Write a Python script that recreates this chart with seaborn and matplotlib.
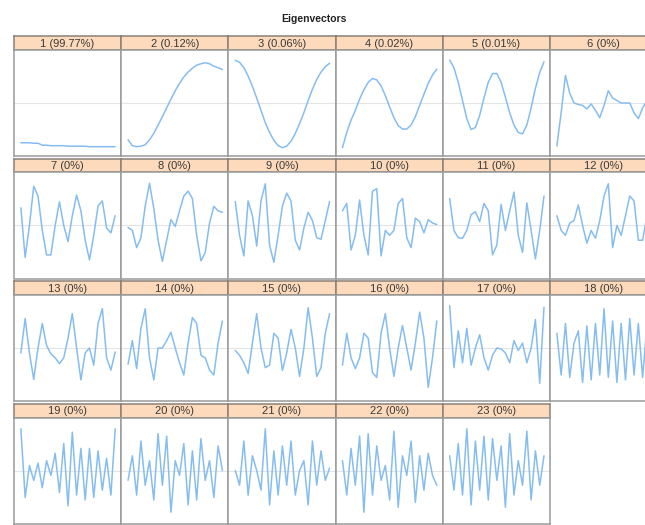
import numpy as np
import pandas as pd
import seaborn as sns
import matplotlib.pyplot as plt

sns.set_theme(style="white")
plt.rcParams['font.family'] = ['Liberation Sans', 'DejaVu Sans']

# panel titles: component number and explained share
labels = ["1 (99.77%)", "2 (0.12%)", "3 (0.06%)", "4 (0.02%)", "5 (0.01%)", "6 (0%)",
          "7 (0%)", "8 (0%)", "9 (0%)", "10 (0%)", "11 (0%)", "12 (0%)",
          "13 (0%)", "14 (0%)", "15 (0%)", "16 (0%)", "17 (0%)", "18 (0%)",
          "19 (0%)", "20 (0%)", "21 (0%)", "22 (0%)", "23 (0%)"]

# eigenvector values (23 lags, scaled to the panel height)
ev01 = [-0.81, -0.81, -0.81, -0.82, -0.82, -0.86, -0.86, -0.87, -0.87, -0.87, -0.87, -0.88,
        -0.88, -0.88, -0.88, -0.88, -0.89, -0.89, -0.89, -0.89, -0.89, -0.89, -0.89]
ev02 = [-0.75, -0.87, -0.89, -0.88, -0.85, -0.75, -0.62, -0.45, -0.28, -0.1, 0.08, 0.25,
        0.4, 0.53, 0.63, 0.71, 0.77, 0.8, 0.82, 0.8, 0.75, 0.72, 0.68]
ev03 = [0.87, 0.83, 0.72, 0.55, 0.34, 0.1, -0.15, -0.4, -0.6, -0.76, -0.87, -0.91,
        -0.88, -0.78, -0.62, -0.42, -0.2, 0.05, 0.28, 0.48, 0.63, 0.74, 0.81]
ev04 = [-0.91, -0.6, -0.35, -0.15, 0.08, 0.27, 0.42, 0.5, 0.47, 0.35, 0.15, -0.08,
        -0.3, -0.46, -0.53, -0.53, -0.45, -0.28, -0.05, 0.18, 0.4, 0.57, 0.69]
ev05 = [0.875, 0.72, 0.42, 0.05, -0.32, -0.54, -0.5, -0.25, 0.1, 0.42, 0.6, 0.6,
        0.42, 0.12, -0.2, -0.45, -0.6, -0.63, -0.45, -0.1, 0.3, 0.62, 0.84]
ev06 = [-0.875, -0.2, 0.56, 0.2, 0.0, -0.03, -0.05, -0.12, -0.02, -0.15, -0.3, -0.05,
        0.25, 0.1, 0.05, 0.0, 0.0, 0.0, -0.2, -0.32, -0.1, 0.05, 0.1]
ev07 = [0.36, -0.65, 0.0, 0.8, 0.6, -0.1, -0.6, -0.6, 0.0, 0.48, 0.0, -0.33,
        0.2, 0.62, 0.3, -0.3, -0.7, -0.2, 0.4, 0.5, -0.05, -0.15, 0.2]
ev08 = [-0.04, -0.1, -0.45, -0.25, 0.4, 0.86, 0.35, -0.3, -0.73, -0.3, 0.12, -0.02,
        0.3, 0.6, 0.7, 0.55, -0.2, -0.72, -0.55, 0.05, 0.39, 0.3, 0.27]
ev09 = [0.49, -0.2, -0.62, 0.5, 0.2, -0.42, 0.5, 0.85, -0.4, -0.75, -0.2, 0.4,
        0.66, 0.5, -0.3, -0.5, -0.05, 0.27, 0.1, -0.25, -0.28, 0.1, 0.49]
ev10 = [0.3, 0.45, -0.5, -0.2, 0.52, -0.2, -0.6, 0.7, 0.75, -0.62, -0.1, -0.2,
        -0.1, 0.45, 0.55, -0.25, -0.45, 0.15, 0.08, -0.15, 0.12, 0.05, 0.02]
ev11 = [0.55, -0.1, -0.25, -0.26, -0.1, 0.22, 0.28, 0.08, 0.45, 0.3, -0.6, -0.4,
        0.43, -0.1, 0.3, 0.68, -0.2, -0.55, 0.46, -0.1, -0.68, -0.1, 0.6]
ev12 = [0.2, -0.1, -0.2, 0.05, 0.1, 0.42, 0.0, -0.36, -0.1, -0.26, 0.1, 0.6,
        0.85, -0.45, 0.0, -0.2, 0.2, 0.6, 0.5, -0.3, -0.3, 0.2, 0.35]
ev13 = [-0.1, 0.6, -0.1, -0.64, 0.0, 0.5, 0.05, -0.12, -0.2, -0.32, -0.2, 0.2,
        0.7, 0.0, -0.65, -0.1, 0.0, -0.35, 0.5, 0.8, -0.2, -0.45, -0.08]
ev14 = [-0.33, 0.15, -0.42, 0.4, 0.8, -0.2, -0.65, 0.0, 0.0, 0.15, 0.32, 0.0,
        -0.3, -0.55, 0.1, 0.62, 0.5, -0.15, -0.2, -0.45, -0.55, 0.1, 0.55]
ev15 = [-0.05, -0.15, -0.3, -0.52, 0.1, 0.7, 0.0, -0.4, -0.35, 0.3, 0.2, -0.46,
        -0.1, 0.38, 0.0, -0.58, 0.0, 0.82, 0.2, -0.58, -0.4, 0.3, 0.7]
ev16 = [-0.35, 0.3, -0.2, -0.42, -0.2, 0.3, 0.2, -0.5, -0.6, 0.3, 0.7, 0.0,
        -0.58, 0.0, 0.46, 0.0, -0.45, 0.1, 0.73, 0.2, -0.8, -0.2, 0.55]
ev17 = [0.86, -0.4, 0.35, -0.3, 0.4, -0.35, 0.0, 0.27, -0.2, -0.45, -0.15, 0.0,
        -0.02, -0.1, -0.3, 0.15, -0.05, 0.1, -0.3, 0.0, 0.58, -0.72, 0.83]
ev18 = [0.3, -0.55, 0.5, -0.6, 0.1, 0.35, -0.7, 0.45, -0.65, 0.5, -0.55, 0.8,
        -0.6, 0.55, -0.7, 0.5, -0.65, 0.6, -0.55, 0.5, -0.6, 0.45, -0.3]
ev19 = [0.85, -0.55, 0.1, -0.2, 0.15, -0.35, 0.2, -0.1, 0.35, -0.45, 0.55, -0.72,
        0.78, -0.5, 0.45, -0.6, 0.45, -0.55, 0.4, -0.4, 0.25, -0.5, 0.85]
ev20 = [-0.2, 0.3, -0.5, 0.6, -0.3, 0.2, -0.6, 0.75, -0.3, 0.7, -0.85, 0.2,
        -0.1, 0.55, -0.7, 0.4, -0.6, 0.65, -0.2, 0.2, -0.55, 0.5, 0.0]
ev21 = [0.0, -0.3, 0.6, -0.5, 0.3, 0.0, -0.4, 0.85, -0.7, 0.4, -0.5, 0.5,
        -0.3, 0.6, -0.5, 0.0, 0.2, -0.7, 0.6, -0.3, 0.4, -0.2, 0.05]
ev22 = [0.2, -0.5, 0.45, -0.3, 0.7, -0.85, 0.75, -0.5, 0.5, -0.2, 0.1, -0.6,
        0.8, -0.75, 0.3, -0.1, 0.6, -0.65, 0.3, -0.4, 0.35, -0.1, -0.3]
ev23 = [0.3, -0.4, 0.55, -0.5, 0.85, -0.7, 0.6, -0.4, 0.7, -0.6, 0.65, -0.2,
        0.5, -0.75, 0.75, -0.5, 0.2, -0.3, 0.8, -0.6, 0.4, -0.3, 0.3]

vectors = [ev01, ev02, ev03, ev04, ev05, ev06, ev07, ev08, ev09, ev10, ev11, ev12,
           ev13, ev14, ev15, ev16, ev17, ev18, ev19, ev20, ev21, ev22, ev23]

W, H = 645, 525
fig = plt.figure(figsize=(W / 100, H / 100), dpi=100)
fig.patch.set_facecolor("white")

# grid geometry in pixels (6th column runs off the right edge, as in the original)
col_x0, col_w = 14, 107.2
row_top = [36, 158.5, 281, 403.5]
head_h, body_h = 14, 106

for k, (lab, vals) in enumerate(zip(labels, vectors)):
    r, c = divmod(k, 6)
    x0 = col_x0 + c * col_w
    top = row_top[r]

    # header strip
    hax = fig.add_axes([x0 / W, 1 - (top + head_h) / H, col_w / W, head_h / H])
    hax.set_facecolor("#fcdabb")
    hax.set_xticks([])
    hax.set_yticks([])
    for s in hax.spines.values():
        s.set_color("#8a8078")
        s.set_linewidth(1.1)
    hax.text(0.5, 0.45, lab, ha="center", va="center", fontsize=8, color="#3a3a3a")

    # body with the eigenvector
    bax = fig.add_axes([x0 / W, 1 - (top + head_h + body_h) / H, col_w / W, body_h / H])
    df = pd.DataFrame({"lag": np.arange(len(vals)), "value": vals})
    bax.axhline(0, color="#e4e4e4", lw=0.8, zorder=0)
    sns.lineplot(data=df, x="lag", y="value", ax=bax, color="#86bdf0", linewidth=1.1)
    bax.set_xlim(-1.6, 23.4)
    bax.set_ylim(-1.08, 1.08)
    bax.set_xticks([])
    bax.set_yticks([])
    bax.set_xlabel("")
    bax.set_ylabel("")
    bax.set_facecolor("white")
    for s in bax.spines.values():
        s.set_color("#9a9a9a")
        s.set_linewidth(1.1)

fig.text(314 / W, 1 - 19 / H, "Eigenvectors", ha="center", va="center",
         fontsize=7.5, fontweight="bold", color="#222222")

fig.savefig("out.png", dpi=100)
